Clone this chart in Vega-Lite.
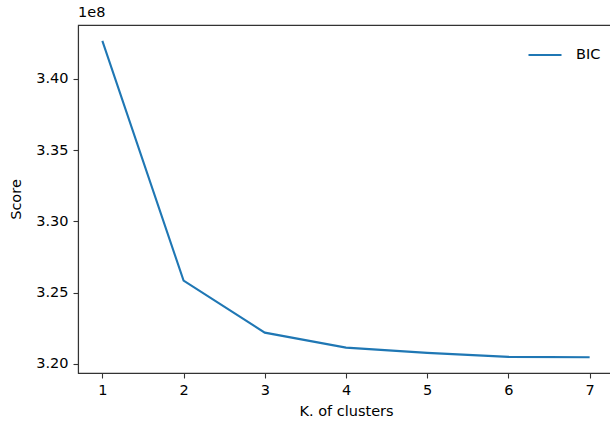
{
  "$schema": "https://vega.github.io/schema/vega-lite/v6.json",
  "width": 536,
  "height": 348,
  "autosize": {"type": "none"},
  "padding": {"left": 78, "top": 25, "right": 0, "bottom": 50},
  "background": "white",
  "title": {"text": "1e8", "anchor": "start", "frame": "group", "offset": 5, "fontSize": 14.5, "fontWeight": "normal", "font": "DejaVu Sans", "color": "black"},
  "config": {
    "font": "DejaVu Sans",
    "view": {"stroke": "#333333", "strokeWidth": 1.1},
    "axis": {
      "grid": false,
      "domainColor": "#333333",
      "domainWidth": 1.1,
      "tickColor": "#333333",
      "tickSize": 5,
      "tickWidth": 1.1,
      "labelFontSize": 14.5,
      "labelColor": "black",
      "titleFontSize": 14.5,
      "titleFontWeight": "normal",
      "titleColor": "black",
      "labelFont": "DejaVu Sans",
      "titleFont": "DejaVu Sans"
    }
  },
  "data": {
    "values": [
      {"k": 1, "score": 342660000, "series": "BIC"},
      {"k": 2, "score": 325840000, "series": "BIC"},
      {"k": 3, "score": 322190000, "series": "BIC"},
      {"k": 4, "score": 321140000, "series": "BIC"},
      {"k": 5, "score": 320770000, "series": "BIC"},
      {"k": 6, "score": 320490000, "series": "BIC"},
      {"k": 7, "score": 320470000, "series": "BIC"}
    ]
  },
  "mark": {"type": "line", "strokeWidth": 2.1},
  "encoding": {
    "x": {
      "field": "k", "type": "quantitative",
      "scale": {"domain": [0.7, 7.3], "nice": false, "zero": false},
      "axis": {"values": [1, 2, 3, 4, 5, 6, 7], "format": "d", "title": "K. of clusters", "titlePadding": 8, "labelPadding": 5}
    },
    "y": {
      "field": "score", "type": "quantitative",
      "scale": {"domain": [319360000, 343770000], "nice": false, "zero": false},
      "axis": {"values": [320000000, 325000000, 330000000, 335000000, 340000000], "labelExpr": "format(datum.value / 1e8, '.2f')", "title": "Score", "titlePadding": 12, "labelPadding": 5}
    },
    "color": {
      "field": "series", "type": "nominal",
      "scale": {"range": ["#1f77b4"]},
      "legend": {"title": null, "orient": "none", "legendX": 449, "legendY": 12, "symbolType": "stroke", "symbolStrokeWidth": 2.1, "symbolSize": 1089, "labelFontSize": 14.5, "labelColor": "black", "labelFont": "DejaVu Sans", "labelOffset": 13}
    }
  }
}
